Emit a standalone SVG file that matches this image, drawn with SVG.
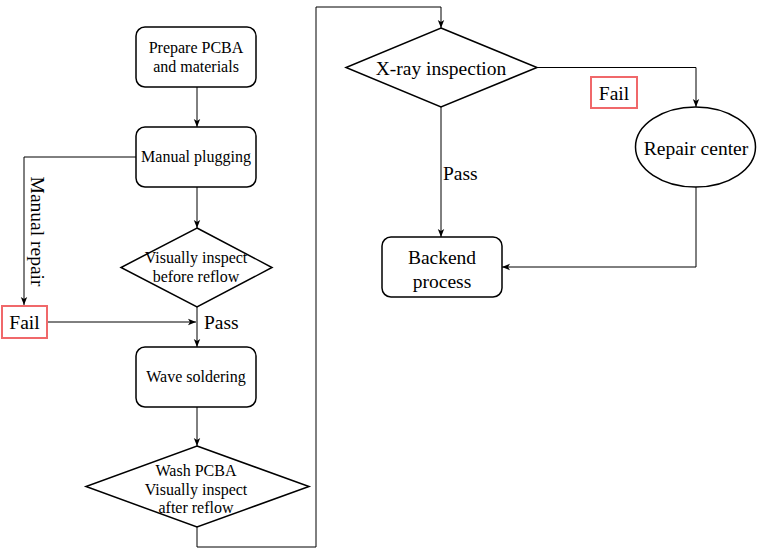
<svg xmlns="http://www.w3.org/2000/svg" width="757" height="557" viewBox="0 0 757 557">
<style>
.n{fill:#fff;stroke:#000;stroke-width:1.5}
.c{fill:none;stroke:#000;stroke-width:1}
.t{font-family:"Liberation Serif","Times New Roman",serif;font-size:16px;text-anchor:middle;fill:#000}
.b{font-family:"Liberation Serif","Times New Roman",serif;font-size:19.5px;fill:#000}
.m{text-anchor:middle}
.r{fill:#fff;stroke:#f0686a;stroke-width:2}
</style>
<defs>
<marker id="a" viewBox="0 0 10 10" refX="10" refY="5" markerWidth="8" markerHeight="8" markerUnits="userSpaceOnUse" orient="auto">
<path d="M0,1 L10,5 L0,9 L2.5,5 Z" fill="#000"/>
</marker>
</defs>
<rect width="757" height="557" fill="#fff"/>
<g id="connectors">
<path class="c" d="M197,87 V127" marker-end="url(#a)"/>
<path class="c" d="M197,187 V228" marker-end="url(#a)"/>
<path class="c" d="M136,157 H24 V305" marker-end="url(#a)"/>
<path class="c" d="M47,322 H196" marker-end="url(#a)"/>
<path class="c" d="M197,307 V347" marker-end="url(#a)"/>
<path class="c" d="M197,407 V446" marker-end="url(#a)"/>
<path class="c" d="M197,527 V547 H316 V7 H441 V28" marker-end="url(#a)"/>
<path class="c" d="M537,67.5 H696 V107" marker-end="url(#a)"/>
<path class="c" d="M441,107 V237" marker-end="url(#a)"/>
<path class="c" d="M696,187 V267 H502" marker-end="url(#a)"/>
</g>
<g id="prepare">
<rect class="n" x="136" y="27" width="120" height="60" rx="9"/>
<text class="t" x="196" y="53">Prepare PCBA</text>
<text class="t" x="196" y="72">and materials</text>
</g>
<g id="plugging">
<rect class="n" x="136" y="127" width="120" height="60" rx="9"/>
<text class="t" x="196" y="162">Manual plugging</text>
</g>
<g id="inspect-before">
<polygon class="n" points="197,228 272,267.5 197,307 121,267.5"/>
<text class="t" x="196" y="263">Visually inspect</text>
<text class="t" x="196" y="282">before reflow</text>
</g>
<g id="fail-left">
<rect class="r" x="2" y="306" width="45" height="32"/>
<text class="b" x="24.5" y="329" text-anchor="middle">Fail</text>
</g>
<g id="manual-repair-label">
<text class="b m" x="0" y="0" dominant-baseline="central" transform="translate(37,231.5) rotate(90)">Manual repair</text>
</g>
<g id="pass-left">
<text class="b" x="204" y="329">Pass</text>
</g>
<g id="wave">
<rect class="n" x="136" y="347" width="120" height="60" rx="9"/>
<text class="t" x="196" y="382">Wave soldering</text>
</g>
<g id="wash">
<polygon class="n" points="197,446 309,486.5 197,527 86,486.5"/>
<text class="t" x="196" y="476">Wash PCBA</text>
<text class="t" x="196" y="494.5">Visually inspect</text>
<text class="t" x="196" y="513">after reflow</text>
</g>
<g id="xray">
<polygon class="n" points="441,28 537,67.5 441,107 346,67.5"/>
<text class="b m" x="441" y="75">X-ray inspection</text>
</g>
<g id="fail-right">
<rect class="r" x="591" y="77" width="46" height="31"/>
<text class="b m" x="614" y="100">Fail</text>
</g>
<g id="pass-right">
<text class="b" x="443" y="180">Pass</text>
</g>
<g id="repair-center">
<ellipse class="n" cx="695.5" cy="147" rx="60" ry="40"/>
<text class="b m" x="696" y="155">Repair center</text>
</g>
<g id="backend">
<rect class="n" x="382" y="237" width="120" height="60" rx="9"/>
<text class="b m" x="442" y="264">Backend</text>
<text class="b m" x="442" y="288">process</text>
</g>
</svg>
